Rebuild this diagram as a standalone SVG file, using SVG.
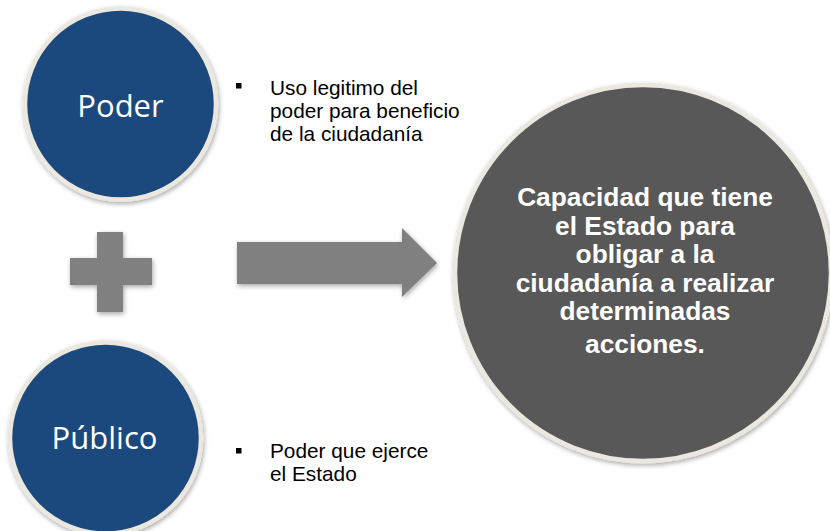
<svg xmlns="http://www.w3.org/2000/svg" width="830" height="531" viewBox="0 0 830 531">
<defs>
<filter id="sh" x="-20%" y="-20%" width="140%" height="140%">
<feGaussianBlur in="SourceAlpha" stdDeviation="2.5"/>
<feOffset dx="1" dy="2" result="b"/>
<feComponentTransfer><feFuncA type="linear" slope="0.35"/></feComponentTransfer>
<feMerge><feMergeNode/><feMergeNode in="SourceGraphic"/></feMerge>
</filter>
<style>
.circ{stroke:#ebe8df;stroke-width:4.5;filter:url(#sh)}
.blue{fill:#1f497d}
.dark{fill:#595959}
.lbl{font-family:"Open Sans","Noto Sans",sans-serif;font-size:31px;fill:#ffffff;text-anchor:middle}
.txt{font-family:"Liberation Sans",Arial,sans-serif;font-size:20.8px;fill:#000000}
.big{font-family:"Liberation Sans",Arial,sans-serif;font-size:26.3px;font-weight:bold;fill:#ffffff;text-anchor:middle}
.gray{fill:#808080;filter:url(#sh)}
</style>
</defs>
<rect width="830" height="531" fill="#ffffff"/>
<g id="poder">
<circle class="circ blue" cx="120.5" cy="104" r="95.5"/>
<text class="lbl" x="120.5" y="117">Poder</text>
</g>
<g id="publico">
<circle class="circ blue" cx="105.5" cy="438" r="95.5"/>
<text class="lbl" x="104.5" y="449">Público</text>
</g>
<g id="texto-poder">
<rect x="236" y="83" width="5.5" height="5.5" fill="#000"/>
<text class="txt" x="270" y="95">Uso legitimo del</text>
<text class="txt" x="270" y="118">poder para beneficio</text>
<text class="txt" x="270" y="141">de la ciudadanía</text>
</g>
<g id="texto-publico">
<rect x="236" y="448" width="5.5" height="5.5" fill="#000"/>
<text class="txt" x="270" y="458">Poder que ejerce</text>
<text class="txt" x="270" y="481">el Estado</text>
</g>
<g id="mas">
<path class="gray" d="M97 232 H123 V258 H152 V285 H123 V312 H97 V285 H70 V258 H97 Z"/>
</g>
<g id="connectors">
<path class="gray" d="M237 242 H402 V228 L437 263 L402 297 V284 H237 Z"/>
</g>
<g id="definicion">
<circle class="circ dark" cx="643" cy="273" r="188"/>
<text class="big" x="645" y="206">Capacidad que tiene</text>
<text class="big" x="645" y="235">el Estado para</text>
<text class="big" x="645" y="263">obligar a la</text>
<text class="big" x="645" y="292">ciudadanía a realizar</text>
<text class="big" x="645" y="320">determinadas</text>
<text class="big" x="645" y="353">acciones.</text>
</g>
</svg>
